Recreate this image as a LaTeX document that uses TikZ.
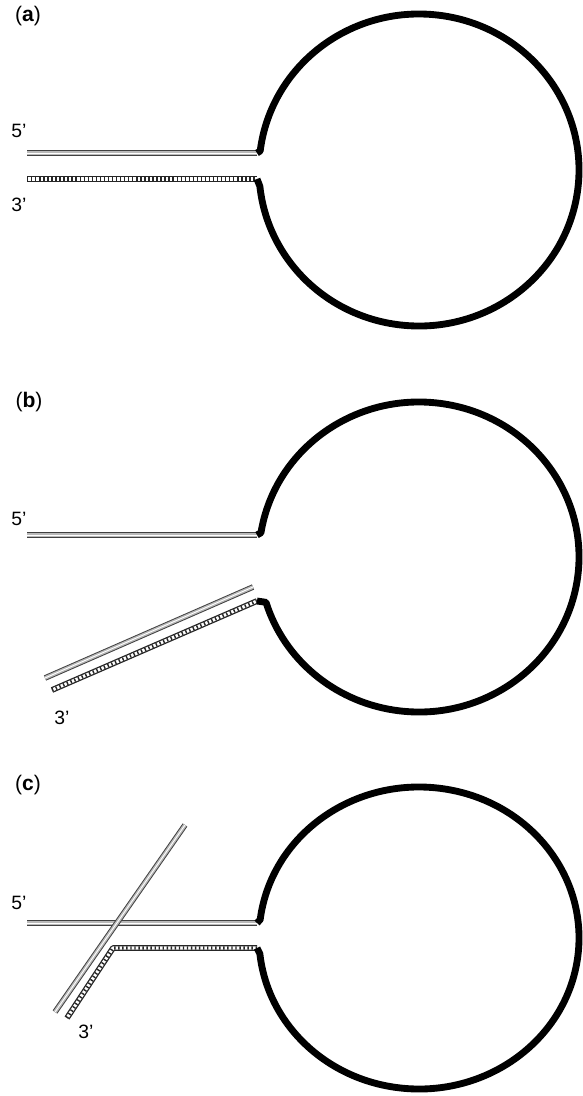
\documentclass[tikz,border=0pt]{standalone}
\usepackage{fontspec}
\setmainfont{Liberation Sans}
\usetikzlibrary{calc}

\begin{document}
\begin{tikzpicture}[
    x=0.02cm, y=0.02cm,
    loopline/.style={line width=3.9pt, line join=round},
    plainstrand/.style={line width=3.2pt, draw=black!75,
        postaction={draw=gray!55, line width=2.1pt},
        postaction={draw=white, line width=0.5pt}},
    ladderstrand/.style={line width=3.3pt, draw=black!85, line join=round,
        postaction={draw=white, line width=1.8pt},
        postaction={draw=black!85, line width=1.9pt, dash pattern=on 0.8pt off 1.5pt}},
    endlabel/.style={font=\fontsize{11}{13}\selectfont, inner sep=0pt},
    panellabel/.style={font=\fontsize{12}{14}\selectfont, inner sep=0pt}
]
    \useasboundingbox (0,0) rectangle (582,-1096);

    % (a) closed hairpin
    \coordinate (Ca)  at (419,-170);
    \coordinate (a5L) at (27,-153);
    \coordinate (a5R) at (257,-153);
    \coordinate (a3L) at (27,-179);
    \coordinate (a3R) at (257,-179);

    \draw[plainstrand]  (a5L) -- (a5R);
    \draw[ladderstrand] (a3L) -- (a3R);
    \draw[loopline] (a5R) -- ($(Ca)+(173:160 and 156)$)
        arc[start angle=173, end angle=-174, x radius=160, y radius=156] -- (a3R);

    \node[panellabel] (pa) at (28,-16)  {(\textbf{a})};
    \node[endlabel]   (a5) at (19,-131) {5’};
    \node[endlabel]   (a3) at (19,-205) {3’};

    % (b) 3' arm bound
    \coordinate (Cb)  at (419,-557);
    \coordinate (b5L) at (27,-535);
    \coordinate (b5R) at (257,-535);
    \coordinate (b3L) at (52,-690);
    \coordinate (b3R) at (257,-601);
    \coordinate (bgL) at (45,-678);
    \coordinate (bgR) at (253,-587);

    \draw[plainstrand]  (b5L) -- (b5R);
    \draw[ladderstrand] (b3L) -- (b3R);
    \draw[plainstrand]  (bgL) -- (bgR);
    \draw[loopline] (b5R) -- ($(Cb)+(171:160 and 155)$)
        arc[start angle=171, end angle=-163, x radius=160, y radius=155] -- (b3R);

    \node[panellabel] (pb) at (29,-402) {(\textbf{b})};
    \node[endlabel]   (b5) at (19,-519) {5’};
    \node[endlabel]   (b3) at (62,-718) {3’};

    % (c) probe crossing the stem
    \coordinate (Cc)  at (419,-938);
    \coordinate (c5L) at (27,-923);
    \coordinate (c5R) at (257,-923);
    \coordinate (c3L) at (67,-1018);
    \coordinate (c3K) at (113,-948);
    \coordinate (c3R) at (257,-948);
    \coordinate (cgT) at (185,-825);
    \coordinate (cgB) at (55,-1012);

    \draw[plainstrand]  (c5L) -- (c5R);
    \draw[ladderstrand] (c3L) -- (c3K) -- (c3R);
    \draw[plainstrand]  (cgB) -- (cgT);
    \draw[loopline] (c5R) -- ($(Cc)+(173:160 and 151)$)
        arc[start angle=173, end angle=-174, x radius=160, y radius=151] -- (c3R);

    \node[panellabel] (pc) at (28,-785)  {(\textbf{c})};
    \node[endlabel]   (c5) at (19,-903)  {5’};
    \node[endlabel]   (c3) at (86,-1032) {3’};
\end{tikzpicture}
\end{document}
